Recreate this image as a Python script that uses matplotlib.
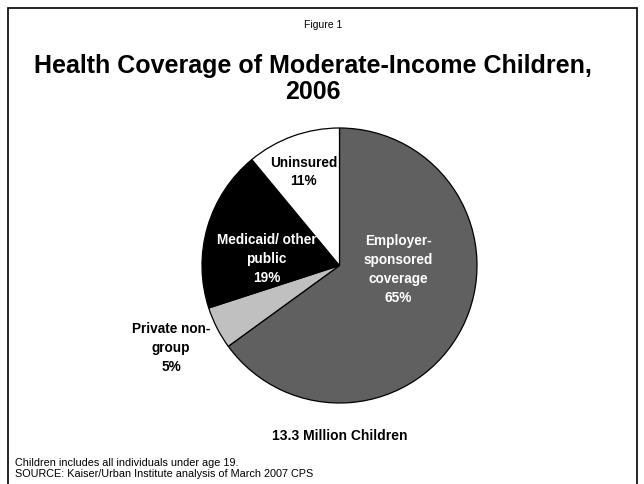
import matplotlib
matplotlib.use("Agg")
import matplotlib.pyplot as plt
from matplotlib.patches import Rectangle

plt.rcParams['font.family'] = ['Liberation Sans', 'DejaVu Sans']

categories = ["Employer-\nsponsored\ncoverage", "Private non-\ngroup",
              "Medicaid/ other\npublic", "Uninsured"]
shares = [65, 5, 19, 11]
colors = ["#606060", "#c0c0c0", "#000000", "#ffffff"]
text_colors = ["white", "black", "white", "black"]
# label positions in pie units (radius = 1)
label_pos = [(0.425, -0.03), (-1.225, -0.6), (-0.53, 0.05), (-0.26, 0.68)]

title_lines = ["Health Coverage of Moderate-Income Children,", "2006"]
total_note = "13.3 Million Children"
footnotes = ["Children includes all individuals under age 19.",
             "SOURCE: Kaiser/Urban Institute analysis of March 2007 CPS"]

W, H = 644, 484
fig = plt.figure(figsize=(W / 100, H / 100), dpi=100)


def fy(py):
    # pixel row from the top -> figure fraction
    return 1 - py / H


# frame round the slide, open at the bottom
fig.patches.append(Rectangle((8 / W, -0.05), 629 / W, 1.05 - 8 / H,
                             transform=fig.transFigure, fill=False,
                             edgecolor="black", linewidth=1.2))

fig.text(323 / W, fy(25), "Figure 1", ha="center", va="center", fontsize=7.5)
for line, base in zip(title_lines, [73, 99]):
    fig.text(313 / W, fy(base), line, ha="center", va="baseline",
             fontsize=18, fontweight="bold")

cx, cy, r = 339.5, 265.5, 137.5
ax = fig.add_axes([(cx - r) / W, (H - cy - r) / H, 2 * r / W, 2 * r / H])
ax.pie(shares, colors=colors, startangle=90, counterclock=False, radius=1,
       wedgeprops=dict(edgecolor="black", linewidth=0.9))
ax.set_xlim(-1, 1)
ax.set_ylim(-1, 1)
ax.set_aspect("equal")
ax.axis("off")

for name, val, (x, y), tc in zip(categories, shares, label_pos, text_colors):
    ax.text(x, y, "{}\n{}%".format(name, val), ha="center", va="center",
            fontsize=9.8, fontweight="bold", color=tc, linespacing=1.45,
            clip_on=False)

fig.text(340 / W, fy(440), total_note, ha="center", va="baseline",
         fontsize=10, fontweight="bold")
for line, base in zip(footnotes, [466, 477]):
    fig.text(15 / W, fy(base), line, ha="left", va="baseline", fontsize=7.8)

fig.savefig("out.png", dpi=100)
